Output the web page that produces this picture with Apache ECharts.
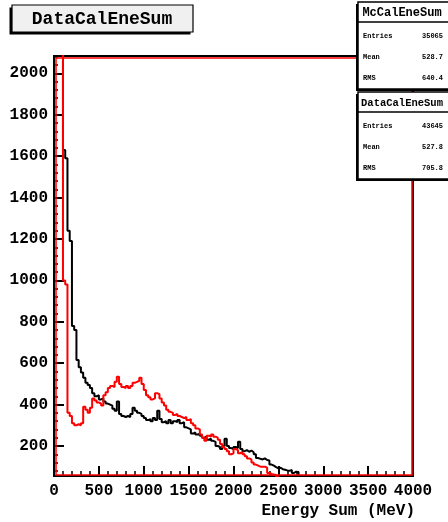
<!DOCTYPE html>
<html>
<head>
<meta charset="utf-8">
<script src="https://cdn.jsdelivr.net/npm/echarts@6/dist/echarts.min.js"></script>
<style>html,body{margin:0;padding:0;background:#fff;}#c{width:448px;height:522px;}</style>
</head>
<body>
<div id="c"></div>
<script>
// ---- data ----
const binWidth = 25; // MeV
const dataCounts = [2600,2600,2600,2600,1630,1590,1240,1190,780,760,615,580,555,530,505,495,480,455,440,445,425,430,415,405,400,395,380,370,415,355,345,340,345,340,355,385,370,360,355,345,335,325,330,320,335,325,370,330,315,320,310,325,310,320,315,325,310,315,290,285,280,260,265,255,260,250,240,245,230,235,225,220,200,195,185,200,235,200,190,185,195,190,220,185,175,180,172,178,170,160,142,138,135,140,132,130,110,105,98,92,95,88,85,82,80,84,70,76,74,45,30,20,0];
const mcCounts = [2600,2600,2600,2600,1000,980,360,345,310,300,305,300,310,390,375,360,385,430,420,410,405,395,445,460,480,490,485,510,535,500,485,480,490,480,490,505,510,515,530,500,470,445,435,425,430,455,450,430,410,395,375,365,360,350,355,345,340,335,340,325,330,310,300,285,280,255,240,225,250,245,255,245,240,230,210,195,185,175,160,165,185,180,165,170,160,150,140,135,120,110,105,100,100,100,95,70,65,62,60,50,30,20,0];
const xTickLabels = [0,500,1000,1500,2000,2500,3000,3500,4000];
const yTickLabels = [200,400,600,800,1000,1200,1400,1600,1800,2000];
const statsMc = {name:'McCalEneSum', entries:'35065', mean:'528.7', rms:'640.4'};
const statsData = {name:'DataCalEneSum', entries:'43645', mean:'527.8', rms:'705.8'};

function toSteps(counts){
  const pts = counts.map((v,i)=>[i*binWidth, v]);
  pts.push([counts.length*binWidth, counts[counts.length-1]]);
  return pts;
}
const yMinor = [];
for (let v = 80; v <= 2080; v += 40) if (v % 200 !== 0) yMinor.push(v);

const FONT = '"Liberation Mono","Courier New",monospace';
const chart = echarts.init(document.getElementById('c'), null, {renderer:'canvas'});

const GL = 54, GT = 56, GR = 35, GB = 46;
const W = 448, H = 522;

function statsBox(s, y0, headerSize){
  const x0 = 358;
  return [
    {type:'rect', z:20, shape:{x:x0-2, y:y0+2, width:100, height:87}, style:{fill:'#000'}},
    {type:'rect', z:21, shape:{x:x0, y:y0, width:100, height:87}, style:{fill:'#fff', stroke:'#000', lineWidth:1.5}},
    {type:'line', z:22, shape:{x1:x0, y1:y0+20, x2:x0+100, y2:y0+20}, style:{stroke:'#000', lineWidth:1.5}},
    {type:'text', z:23, style:{x:402, y:y0+11, text:s.name, font:'bold '+headerSize+'px '+FONT, fill:'#000', align:'center', verticalAlign:'middle'}},
    {type:'text', z:23, style:{x:363, y:y0+34, text:'Entries', font:'bold 7px '+FONT, fill:'#000', align:'left', verticalAlign:'middle'}},
    {type:'text', z:23, style:{x:443, y:y0+34, text:s.entries, font:'bold 7px '+FONT, fill:'#000', align:'right', verticalAlign:'middle'}},
    {type:'text', z:23, style:{x:363, y:y0+55, text:'Mean', font:'bold 7px '+FONT, fill:'#000', align:'left', verticalAlign:'middle'}},
    {type:'text', z:23, style:{x:443, y:y0+55, text:s.mean, font:'bold 7px '+FONT, fill:'#000', align:'right', verticalAlign:'middle'}},
    {type:'text', z:23, style:{x:363, y:y0+76, text:'RMS', font:'bold 7px '+FONT, fill:'#000', align:'left', verticalAlign:'middle'}},
    {type:'text', z:23, style:{x:443, y:y0+76, text:s.rms, font:'bold 7px '+FONT, fill:'#000', align:'right', verticalAlign:'middle'}}
  ];
}

const plain = v => String(Math.round(v));

const option = {
  animation:false,
  backgroundColor:'#fff',
  grid:{left:GL, top:GT, right:GR, bottom:GB, show:true, borderColor:'#000', borderWidth:2, outerBoundsMode:'none', containLabel:false},
  xAxis:{
    type:'value', min:0, max:4000, interval:500,
    axisLine:{show:false},
    axisTick:{show:true, inside:true, length:10, lineStyle:{color:'#000', width:2}},
    minorTick:{show:true, splitNumber:5, length:5, lineStyle:{color:'#000', width:1.5}},
    axisLabel:{show:true, margin:7, color:'#000', fontFamily:FONT, fontWeight:'bold', fontSize:16, showMinLabel:true, showMaxLabel:true,
      hideOverlap:false, interval:0, formatter:plain, customValues:xTickLabels},
    splitLine:{show:false}, minorSplitLine:{show:false}
  },
  yAxis:[{
    type:'value', min:55, max:2084, position:'left',
    axisLine:{show:false},
    axisTick:{show:true, inside:true, length:10, customValues:yTickLabels, lineStyle:{color:'#000', width:2}},
    axisLabel:{show:true, margin:6, color:'#000', fontFamily:FONT, fontWeight:'bold', fontSize:16, formatter:plain, hideOverlap:false, customValues:yTickLabels},
    splitLine:{show:false}
  },{
    type:'value', min:55, max:2084, position:'left', offset:0,
    axisLine:{show:false},
    axisTick:{show:true, inside:true, length:4, customValues:yMinor, lineStyle:{color:'#000', width:1.5}},
    axisLabel:{show:false},
    splitLine:{show:false}
  }],
  series:[
    {type:'line', name:'DataCalEneSum', step:'end', data:toSteps(dataCounts), showSymbol:false, symbol:'none', clip:true,
      lineStyle:{color:'#000', width:2}, z:3},
    {type:'line', name:'McCalEneSum', step:'end', data:toSteps(mcCounts), showSymbol:false, symbol:'none', clip:true,
      lineStyle:{color:'#ff0000', width:2}, z:4}
  ],
  graphic:[
    {type:'rect', z:10, silent:true, shape:{x:GL+2, y:GT+2, width:W-GR-GL-3, height:H-GB-GT-3}, style:{fill:'none', stroke:'#ff0000', lineWidth:1.5}},
    {type:'rect', z:20, shape:{x:9.5, y:7.5, width:181, height:27}, style:{fill:'#000'}},
    {type:'rect', z:21, shape:{x:12, y:5, width:181, height:27}, style:{fill:'#f0f0f0', stroke:'#000', lineWidth:1.2}},
    {type:'text', z:22, style:{x:102, y:19, text:'DataCalEneSum', font:'bold 18px '+FONT, fill:'#000', align:'center', verticalAlign:'middle'}},
    {type:'text', z:22, style:{x:415, y:511, text:'Energy Sum (MeV)', font:'bold 16px '+FONT, fill:'#000', align:'right', verticalAlign:'middle'}}
  ].concat(statsBox(statsMc, 2, 12)).concat(statsBox(statsData, 92, 10.5))
};
chart.setOption(option);
</script>
</body>
</html>
